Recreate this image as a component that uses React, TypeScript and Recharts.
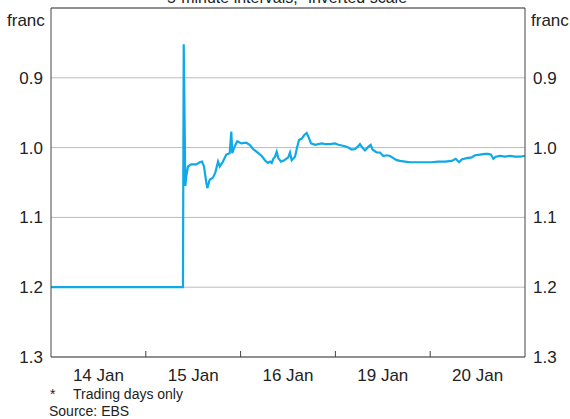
import React from 'react';
import { LineChart, Line, XAxis, YAxis, CartesianGrid, ReferenceLine } from 'recharts';

// time in trading days from the start of 14 Jan, franc per euro (inverted scale)
const days = [
    0, 1.392, 1.400, 1.417, 1.427, 1.445, 1.480, 1.533, 1.569, 1.593, 1.614,
    1.638, 1.649, 1.674, 1.709, 1.733, 1.762, 1.780, 1.814, 1.849, 1.885,
    1.902, 1.912, 1.938, 1.965, 2.007, 2.060, 2.096, 2.131, 2.187, 2.223,
    2.257, 2.286, 2.310, 2.328, 2.345, 2.363, 2.381, 2.398, 2.426, 2.461,
    2.503, 2.521, 2.539, 2.574, 2.592, 2.616, 2.645, 2.672, 2.697, 2.714,
    2.743, 2.785, 2.820, 2.856, 2.890, 2.943, 2.996, 3.031, 3.066, 3.101,
    3.136, 3.172, 3.207, 3.242, 3.259, 3.284, 3.312, 3.347, 3.372, 3.393,
    3.436, 3.471, 3.505, 3.541, 3.576, 3.611, 3.647, 3.681, 3.734, 3.787,
    3.858, 3.910, 3.963, 4.016, 4.085, 4.156, 4.227, 4.269, 4.304, 4.332,
    4.385, 4.438, 4.473, 4.525, 4.578, 4.613, 4.641, 4.666, 4.691, 4.736,
    4.789, 4.842, 4.895, 4.947, 5.0,
];
const rates = [
    1.2, 1.2, 0.852, 1.055, 1.041, 1.027, 1.024, 1.024, 1.021, 1.020, 1.027,
    1.050, 1.058, 1.046, 1.043, 1.036, 1.020, 1.027, 1.020, 1.010, 1.008,
    0.977, 1.008, 0.998, 0.991, 0.994, 0.993, 0.996, 1.002, 1.008, 1.012,
    1.018, 1.022, 1.020, 1.022, 1.016, 1.013, 1.006, 1.015, 1.020, 1.018,
    1.014, 1.007, 1.018, 1.013, 1.002, 0.989, 0.987, 0.982, 0.979, 0.984,
    0.994, 0.996, 0.995, 0.994, 0.995, 0.995, 0.994, 0.996, 0.997, 0.998,
    1.000, 1.003, 1.002, 0.998, 0.995, 1.000, 1.004, 0.999, 0.996, 1.003,
    1.007, 1.007, 1.012, 1.011, 1.012, 1.015, 1.018, 1.019, 1.020, 1.021,
    1.021, 1.021, 1.021, 1.021, 1.020, 1.020, 1.019, 1.016, 1.021, 1.017,
    1.015, 1.014, 1.011, 1.010, 1.009, 1.009, 1.010, 1.016, 1.013, 1.012,
    1.013, 1.012, 1.013, 1.013, 1.012,
];
const dayLabels = ['14 Jan', '15 Jan', '16 Jan', '19 Jan', '20 Jan'];
const dayTicks = [0.5, 1, 1.5, 2, 2.5, 3, 3.5, 4, 4.5];
const rateTicks = [0.9, 1.0, 1.1, 1.2, 1.3];

const data = days.map((d, i) => ({ day: d, rate: rates[i] }));

const FONT = '"Liberation Sans", Arial, sans-serif';
const TEXT = '#222';
const FRAME = '#444';

const DayTick = (props: any) => {
    const { x, y, payload } = props;
    const v = payload.value;
    if (Number.isInteger(v)) {
        return <line x1={x} x2={x} y1={y} y2={y - 6} stroke={FRAME} strokeWidth={1} />;
    }
    return (
        <text x={x} y={y + 24} textAnchor="middle" fontSize={17} fill={TEXT} fontFamily={FONT}>
            {dayLabels[Math.floor(v)]}
        </text>
    );
};

const App = () => {
    return (
        <div style={{ position: 'absolute', left: 0, top: 0, width: 570, height: 419, overflow: 'hidden', fontFamily: FONT, color: TEXT, background: '#fff' }}>
            <div style={{ position: 'absolute', left: 0, width: 574, top: -10, textAlign: 'center', fontSize: 16, lineHeight: '16px' }}>
                5-minute intervals,* inverted scale
            </div>
            <div style={{ position: 'absolute', left: 7, top: 12, fontSize: 17, lineHeight: '18px' }}>franc</div>
            <div style={{ position: 'absolute', left: 531, top: 12, fontSize: 17, lineHeight: '18px' }}>franc</div>

            <LineChart width={570} height={419} data={data} margin={{ top: 8, right: 0, bottom: 0, left: 0 }}>
                <CartesianGrid yAxisId="left" vertical={false} stroke="#bbb" />
                <XAxis
                    dataKey="day"
                    type="number"
                    domain={[0, 5]}
                    ticks={dayTicks}
                    interval={0}
                    height={62}
                    tickSize={0}
                    tickMargin={0}
                    tick={<DayTick />}
                    axisLine={{ stroke: FRAME }}
                    tickLine={false}
                />
                <YAxis
                    yAxisId="left"
                    type="number"
                    domain={[0.8, 1.3]}
                    reversed
                    ticks={rateTicks}
                    interval={0}
                    width={51}
                    tickLine={false}
                    axisLine={{ stroke: FRAME }}
                    tick={{ fontSize: 17, fill: TEXT, fontFamily: FONT }}
                    tickFormatter={(v: number) => v.toFixed(1)}
                />
                <YAxis
                    yAxisId="right"
                    orientation="right"
                    type="number"
                    domain={[0.8, 1.3]}
                    reversed
                    ticks={rateTicks}
                    interval={0}
                    width={45}
                    tickLine={false}
                    axisLine={{ stroke: FRAME }}
                    tick={{ fontSize: 17, fill: TEXT, fontFamily: FONT }}
                    tickFormatter={(v: number) => v.toFixed(1)}
                />
                <ReferenceLine yAxisId="left" y={0.8} stroke={FRAME} />
                {/* invisible copy so the right-hand axis has a series and draws its ticks */}
                <Line
                    yAxisId="right"
                    type="linear"
                    dataKey="rate"
                    stroke="none"
                    dot={false}
                    activeDot={false}
                    legendType="none"
                    isAnimationActive={false}
                />
                <Line
                    yAxisId="left"
                    type="linear"
                    dataKey="rate"
                    stroke="#0fa8e8"
                    strokeWidth={2.2}
                    dot={false}
                    isAnimationActive={false}
                />
            </LineChart>

            <div style={{ position: 'absolute', left: 50, top: 386, fontSize: 14, lineHeight: '16px' }}>*</div>
            <div style={{ position: 'absolute', left: 73, top: 386, fontSize: 14, lineHeight: '16px' }}>Trading days only</div>
            <div style={{ position: 'absolute', left: 49, top: 403, fontSize: 14, lineHeight: '16px' }}>Source: EBS</div>
        </div>
    );
};

export default App;
